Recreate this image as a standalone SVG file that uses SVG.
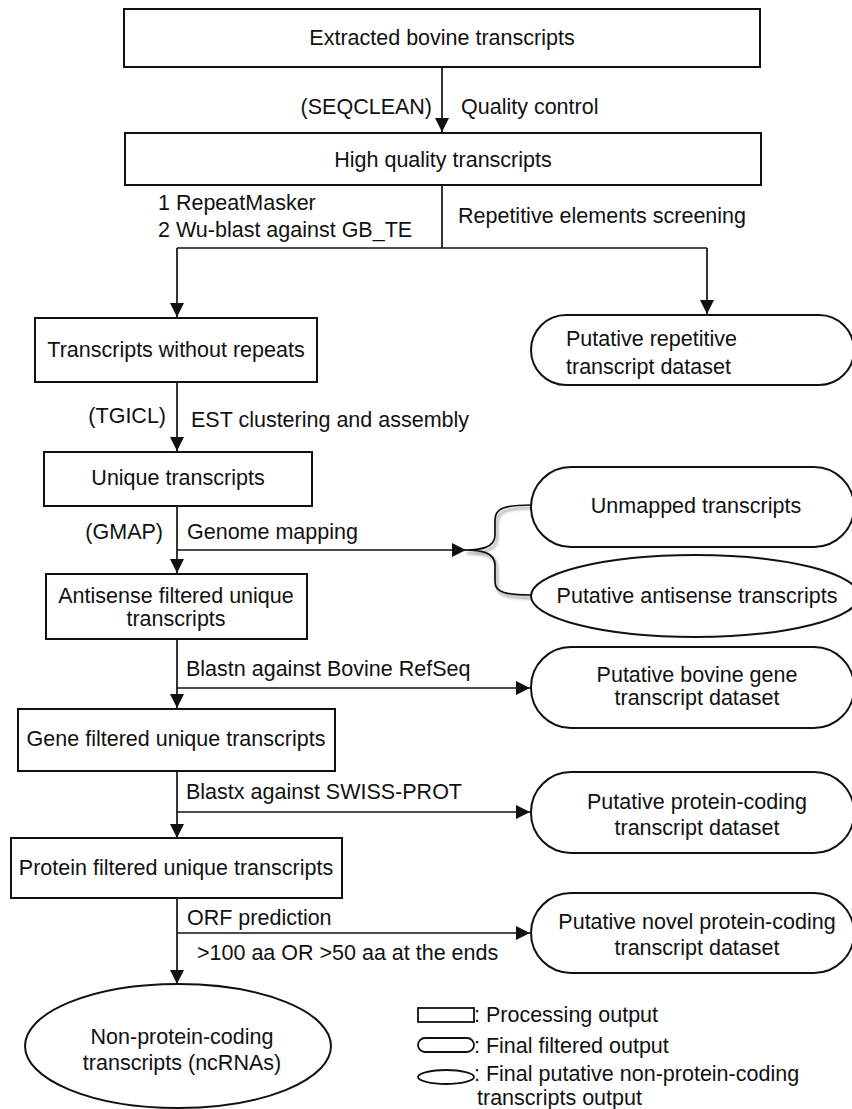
<svg xmlns="http://www.w3.org/2000/svg" width="852" height="1109" viewBox="0 0 852 1109">
<style>
text{font-family:"Liberation Sans",Arial,sans-serif;font-size:21.5px;fill:#111}
.c{text-anchor:middle}
.e{text-anchor:end}
.box{fill:#fff;stroke:#111;stroke-width:2}
.ln{fill:none;stroke:#111;stroke-width:1.7}
.lg{fill:#fff;stroke:#111;stroke-width:1.8}
</style>
<defs>
<marker id="ah" markerUnits="userSpaceOnUse" markerWidth="15" markerHeight="14" refX="14" refY="7" orient="auto">
<path d="M0,0 L14,7 L0,14 z" fill="#111"/>
</marker>
<filter id="sh" x="-20%" y="-20%" width="140%" height="140%"><feGaussianBlur stdDeviation="1.5"/></filter>
</defs>
<rect width="852" height="1109" fill="#fff"/>
<g id="connectors">
<line class="ln" x1="442" y1="67" x2="442" y2="132" marker-end="url(#ah)"/>
<polyline class="ln" points="442,185 442,248"/>
<polyline class="ln" points="177,248 707,248"/>
<line class="ln" x1="177" y1="248" x2="177" y2="317" marker-end="url(#ah)"/>
<line class="ln" x1="707" y1="248" x2="707" y2="314" marker-end="url(#ah)"/>
<line class="ln" x1="177" y1="382" x2="177" y2="451" marker-end="url(#ah)"/>
<line class="ln" x1="177" y1="506" x2="177" y2="573" marker-end="url(#ah)"/>
<line class="ln" x1="177" y1="550" x2="466" y2="550" marker-end="url(#ah)"/>
<path d="M467,553 C482,553 497,551 497,538 L497,523 C497,511 507,508 533,508 M467,553 C482,553 497,555 497,568 L497,585 C497,595 507,598 533,598" fill="none" stroke="#999" stroke-width="2" filter="url(#sh)"/>
<path class="ln" d="M465,550 C480,550 495,548 495,535 L495,520 C495,508 505,505 531,505 M465,550 C480,550 495,552 495,565 L495,582 C495,592 505,595 531,595"/>
<line class="ln" x1="177" y1="639" x2="177" y2="708" marker-end="url(#ah)"/>
<line class="ln" x1="177" y1="688" x2="530" y2="688" marker-end="url(#ah)"/>
<line class="ln" x1="177" y1="771" x2="177" y2="838" marker-end="url(#ah)"/>
<line class="ln" x1="177" y1="812" x2="530" y2="812" marker-end="url(#ah)"/>
<line class="ln" x1="177" y1="898" x2="177" y2="984" marker-end="url(#ah)"/>
<line class="ln" x1="177" y1="933" x2="530" y2="933" marker-end="url(#ah)"/>
<text x="432" y="114" class="e">(SEQCLEAN)</text>
<text x="461" y="114">Quality control</text>
<text x="158" y="210">1 RepeatMasker</text>
<text x="158" y="237">2 Wu-blast against GB_TE</text>
<text x="458" y="223">Repetitive elements screening</text>
<text x="166" y="423" class="e">(TGICL)</text>
<text x="191" y="427">EST clustering and assembly</text>
<text x="163" y="539" class="e">(GMAP)</text>
<text x="187" y="539">Genome mapping</text>
<text x="186" y="676">Blastn against Bovine RefSeq</text>
<text x="186" y="799">Blastx against SWISS-PROT</text>
<text x="187" y="925">ORF prediction</text>
<text x="197" y="960">&gt;100 aa OR &gt;50 aa at the ends</text>
</g>
<g id="extracted">
<rect class="box" x="124" y="9" width="636" height="58"/>
<text x="442" y="45" class="c">Extracted bovine transcripts</text>
</g>
<g id="highquality">
<rect class="box" x="125" y="133" width="636" height="52"/>
<text x="443" y="167" class="c">High quality transcripts</text>
</g>
<g id="norepeats">
<rect class="box" x="35" y="318" width="282" height="64"/>
<text x="176" y="357" class="c">Transcripts without repeats</text>
</g>
<g id="repetitive">
<rect class="box" x="531" y="315" width="323" height="70" rx="35" ry="35"/>
<text x="566" y="346">Putative repetitive</text>
<text x="566" y="374">transcript dataset</text>
</g>
<g id="unique">
<rect class="box" x="44" y="452" width="268" height="54"/>
<text x="178" y="485" class="c">Unique transcripts</text>
</g>
<g id="unmapped">
<rect class="box" x="531" y="467" width="323" height="80" rx="40" ry="40"/>
<text x="696" y="513" class="c">Unmapped transcripts</text>
</g>
<g id="antisense">
<ellipse class="box" cx="695" cy="596" rx="164" ry="41"/>
<text x="697" y="603" class="c">Putative antisense transcripts</text>
</g>
<g id="antisensefiltered">
<rect class="box" x="46" y="574" width="261" height="65"/>
<text x="176" y="603" class="c">Antisense filtered unique</text>
<text x="176" y="626" class="c">transcripts</text>
</g>
<g id="bovinegene">
<rect class="box" x="531" y="647" width="323" height="81" rx="40" ry="40"/>
<text x="697" y="682" class="c">Putative bovine gene</text>
<text x="697" y="705" class="c">transcript dataset</text>
</g>
<g id="genefiltered">
<rect class="box" x="18" y="709" width="317" height="62"/>
<text x="176" y="746" class="c">Gene filtered unique transcripts</text>
</g>
<g id="proteincoding">
<rect class="box" x="531" y="772" width="323" height="81" rx="40" ry="40"/>
<text x="697" y="809" class="c">Putative protein-coding</text>
<text x="697" y="835" class="c">transcript dataset</text>
</g>
<g id="proteinfiltered">
<rect class="box" x="11" y="838" width="331" height="60"/>
<text x="176" y="875" class="c">Protein filtered unique transcripts</text>
</g>
<g id="novel">
<rect class="box" x="531" y="893" width="323" height="80" rx="40" ry="40"/>
<text x="697" y="929" class="c">Putative novel protein-coding</text>
<text x="697" y="955" class="c">transcript dataset</text>
</g>
<g id="ncrna">
<ellipse class="box" cx="178" cy="1046" rx="153" ry="62"/>
<text x="182" y="1044" class="c">Non-protein-coding</text>
<text x="182" y="1070" class="c">transcripts (ncRNAs)</text>
</g>
<g id="legend">
<rect class="lg" x="418" y="1008" width="56" height="14"/>
<text x="474" y="1022">: Processing output</text>
<rect class="lg" x="418" y="1038" width="56" height="14" rx="7" ry="7"/>
<text x="474" y="1053">: Final filtered output</text>
<ellipse class="lg" cx="446" cy="1077" rx="28" ry="7"/>
<text x="474" y="1081">: Final putative non-protein-coding</text>
<text x="477" y="1105">transcripts output</text>
</g>
</svg>
